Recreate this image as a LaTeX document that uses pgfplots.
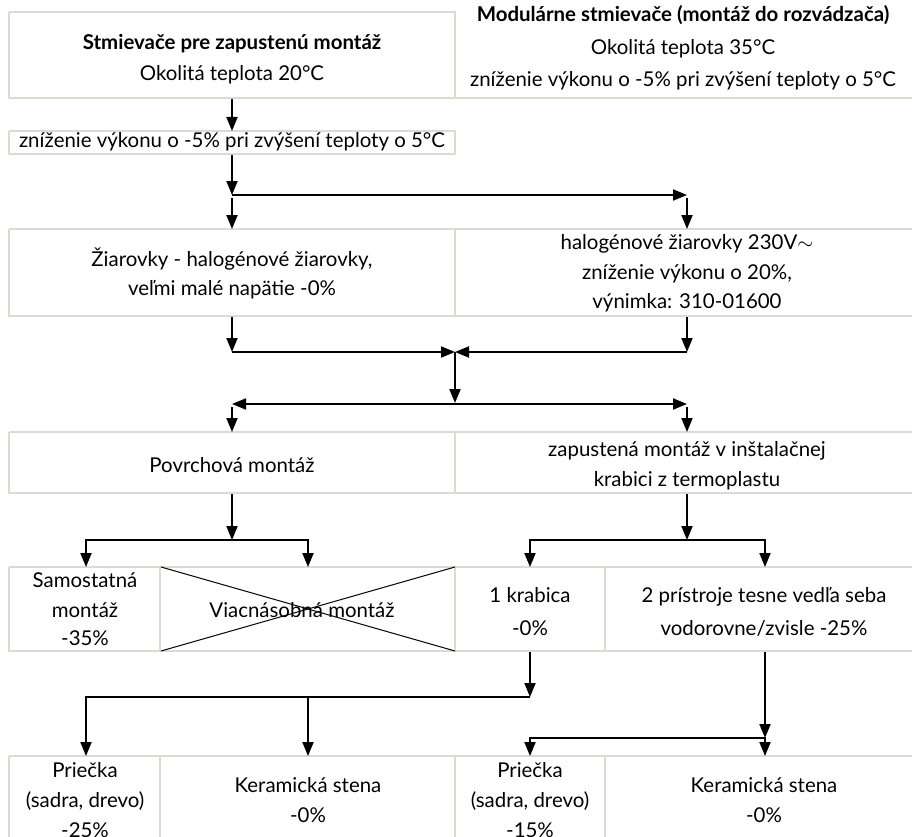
\documentclass[border=0pt]{standalone}
\usepackage{pgfplots}
\pgfplotsset{compat=1.18}
\usepackage{fontspec}
\setmainfont{Lato}
\usetikzlibrary{arrows.meta}
\definecolor{boxgray}{RGB}{221,218,208}

\begin{document}
\begin{tikzpicture}
  \tikzset{
    box/.style={draw=boxgray, line width=1.2bp, mark=none},
    arr/.style={black, line width=2bp, mark=none, -{Triangle[length=14bp,width=11bp]}},
    ln/.style={black, line width=2bp, mark=none},
    txt/.style={anchor=base, inner sep=0pt, font=\fontsize{20.5}{24}\selectfont},
    btxt/.style={txt, font=\fontsize{20.5}{24}\selectfont\bfseries},
  }
  \begin{axis}[
    scale only axis,
    width=912bp, height=837bp,
    xmin=0, xmax=912, ymin=0, ymax=837,
    y dir=reverse,
    hide axis,
    clip=true,
  ]
    % boxes
    \addplot[box] coordinates {(9,12) (455,12) (455,98) (9,98) (9,12)};
    \addplot[box] coordinates {(455,-5) (915,-5) (915,98) (455,98)};
    \addplot[box] coordinates {(9,131) (455,131) (455,154) (9,154) (9,131)};
    \addplot[box] coordinates {(9,229) (915,229) (915,316) (9,316) (9,229)};
    \addplot[box] coordinates {(455,229) (455,316)};
    \addplot[box] coordinates {(9,432) (915,432) (915,493) (9,493) (9,432)};
    \addplot[box] coordinates {(455,432) (455,493)};
    \addplot[box] coordinates {(9,567) (915,567) (915,651) (9,651) (9,567)};
    \addplot[box] coordinates {(160,567) (160,651)};
    \addplot[box] coordinates {(455,567) (455,651)};
    \addplot[box] coordinates {(605,567) (605,651)};
    \addplot[box] coordinates {(9,756) (915,756) (915,850) (9,850) (9,756)};
    \addplot[box] coordinates {(160,756) (160,850)};
    \addplot[box] coordinates {(455,756) (455,850)};
    \addplot[box] coordinates {(605,756) (605,850)};
    % crossed box
    \addplot[black, line width=1bp, mark=none] coordinates {(161,567) (455,651)};
    \addplot[black, line width=1bp, mark=none] coordinates {(161,651) (455,567)};

    % arrows
    \addplot[arr] coordinates {(232,99) (232,131)};
    \addplot[arr] coordinates {(232,155) (232,195)};
    \addplot[arr] coordinates {(232,195) (687,195)};
    \addplot[arr] coordinates {(232,198) (232,229)};
    \addplot[arr] coordinates {(687,198) (687,229)};

    \addplot[arr] coordinates {(232,317) (232,352)};
    \addplot[arr] coordinates {(687,317) (687,352)};
    \addplot[arr] coordinates {(232,352) (455,352)};
    \addplot[arr] coordinates {(687,352) (455,352)};
    \addplot[arr] coordinates {(455,352) (455,403)};
    \addplot[black, line width=2bp, mark=none, {Triangle[length=14bp,width=11bp]}-{Triangle[length=14bp,width=11bp]}] coordinates {(232,404) (687,404)};
    \addplot[arr] coordinates {(232,407) (232,432)};
    \addplot[arr] coordinates {(687,407) (687,432)};

    \addplot[arr] coordinates {(232,494) (232,540)};
    \addplot[ln] coordinates {(86,540) (308,540)};
    \addplot[arr] coordinates {(86,539) (86,567)};
    \addplot[arr] coordinates {(308,539) (308,567)};
    \addplot[arr] coordinates {(687,494) (687,540)};
    \addplot[ln] coordinates {(530,540) (765,540)};
    \addplot[arr] coordinates {(530,539) (530,567)};
    \addplot[arr] coordinates {(765,539) (765,567)};

    \addplot[arr] coordinates {(530,652) (530,697)};
    \addplot[ln] coordinates {(86,697) (530,697)};
    \addplot[arr] coordinates {(86,696) (86,756)};
    \addplot[arr] coordinates {(308,696) (308,756)};
    \addplot[arr] coordinates {(765,652) (765,738)};
    \addplot[ln] coordinates {(530,738) (765,738)};
    \addplot[arr] coordinates {(530,737) (530,756)};
    \addplot[arr] coordinates {(765,737) (765,756)};

    % texts
    \node[btxt] at (axis cs:232,50) {Stmievače pre zapustenú montáž};
    \node[txt] at (axis cs:232,81) {Okolitá teplota 20°C};
    \node[btxt] at (axis cs:683,22) {Modulárne stmievače (montáž do rozvádzača)};
    \node[txt] at (axis cs:683,55) {Okolitá teplota 35°C};
    \node[txt] at (axis cs:683,87) {zníženie výkonu o -5\% pri zvýšení teploty o 5°C};
    \node[txt] at (axis cs:232,148) {zníženie výkonu o -5\% pri zvýšení teploty o 5°C};

    \node[txt] at (axis cs:232,266) {Žiarovky - halogénové žiarovky,};
    \node[txt] at (axis cs:232,295) {veľmi malé napätie -0\%};
    \node[txt] at (axis cs:687,249) {halogénové žiarovky 230V\ensuremath{\sim}};
    \node[txt] at (axis cs:687,279) {zníženie výkonu o 20\%,};
    \node[txt] at (axis cs:687,308) {výnimka: 310-01600};

    \node[txt] at (axis cs:232,472) {Povrchová montáž};
    \node[txt] at (axis cs:687,456) {zapustená montáž v inštalačnej};
    \node[txt] at (axis cs:687,486) {krabici z termoplastu};

    \node[txt] at (axis cs:85,587) {Samostatná};
    \node[txt] at (axis cs:85,617) {montáž};
    \node[txt] at (axis cs:85,645) {-35\%};
    \node[txt] at (axis cs:302,617) {Viacnásobná montáž};
    \node[txt] at (axis cs:530,602) {1 krabica};
    \node[txt] at (axis cs:530,635) {-0\%};
    \node[txt] at (axis cs:764,602) {2 prístroje tesne vedľa seba};
    \node[txt] at (axis cs:764,635) {vodorovne/zvisle -25\%};

    \node[txt] at (axis cs:85,777) {Priečka};
    \node[txt] at (axis cs:85,807) {(sadra, drevo)};
    \node[txt] at (axis cs:85,837) {-25\%};
    \node[txt] at (axis cs:308,792) {Keramická stena};
    \node[txt] at (axis cs:308,822) {-0\%};
    \node[txt] at (axis cs:530,777) {Priečka};
    \node[txt] at (axis cs:530,807) {(sadra, drevo)};
    \node[txt] at (axis cs:530,837) {-15\%};
    \node[txt] at (axis cs:764,792) {Keramická stena};
    \node[txt] at (axis cs:764,822) {-0\%};
  \end{axis}
  \pgfresetboundingbox
  \path[use as bounding box] (current axis.south west) rectangle (current axis.north east);
\end{tikzpicture}
\end{document}
